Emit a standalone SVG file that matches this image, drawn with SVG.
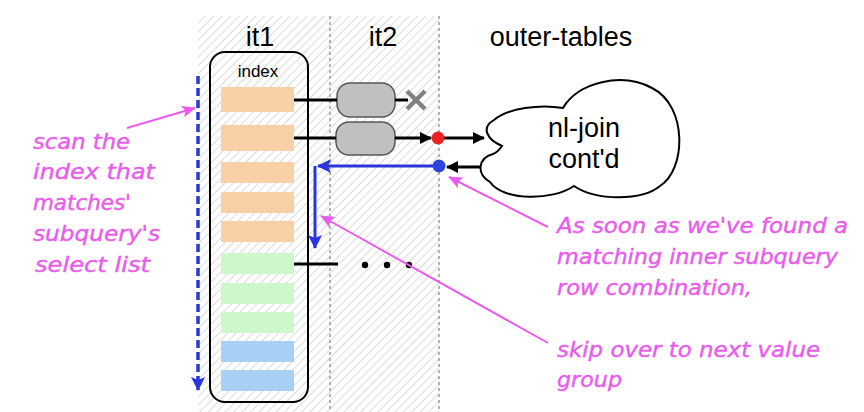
<svg xmlns="http://www.w3.org/2000/svg" width="864" height="412" viewBox="0 0 864 412">
<defs>
<pattern id="hatch" width="6" height="6" patternUnits="userSpaceOnUse" patternTransform="rotate(45)">
<line x1="0" y1="0" x2="0" y2="6" stroke="#b8b8b8" stroke-width="1"/>
</pattern>
<marker id="ab" markerWidth="12" markerHeight="12" refX="11" refY="6" orient="auto" markerUnits="userSpaceOnUse">
<path d="M0,0 L12,6 L0,12 Z" fill="#000"/>
</marker>
<marker id="abl" markerWidth="14" markerHeight="14" refX="13" refY="7" orient="auto" markerUnits="userSpaceOnUse">
<path d="M0,0 L14,7 L0,14 L3,7 Z" fill="#2a35dd"/>
</marker>
<marker id="ap" markerWidth="14" markerHeight="12" refX="13" refY="6" orient="auto" markerUnits="userSpaceOnUse">
<path d="M0,0 L14,6 L0,12 L3,6 Z" fill="#e95ceb"/>
</marker>
</defs>
<style>
.hd{font-family:"Liberation Sans",Arial,sans-serif;font-size:27px;fill:#000;text-anchor:middle}
.nt{font-family:"DejaVu Sans","Liberation Sans",sans-serif;font-style:italic;font-size:21px;fill:#e95ceb;stroke:#e95ceb;stroke-width:0.4}
.or{fill:#f8cfa6}
.gr{fill:#cdf7cd}
.bl{fill:#a8d0f5}
.gbox{fill:#c0c0c0;stroke:#555;stroke-width:1.5}
.blk{stroke:#000;stroke-width:3;fill:none}
.pk{stroke:#e95ceb;stroke-width:2;fill:none}
</style>

<rect x="198" y="16" width="241" height="396" fill="url(#hatch)"/>
<line x1="330" y1="16" x2="330" y2="412" stroke="#9a9a9a" stroke-width="1.5" stroke-dasharray="3,3"/>
<line x1="439" y1="16" x2="439" y2="412" stroke="#9a9a9a" stroke-width="1.5" stroke-dasharray="3,3"/>

<text class="hd" x="260" y="46">it1</text>
<text class="hd" x="383" y="46">it2</text>
<text class="hd" x="561" y="46">outer-tables</text>

<g id="index">
<rect x="210" y="52" width="98" height="350" rx="15" ry="15" fill="none" stroke="#000" stroke-width="2"/>
<text x="258" y="77" font-family="Liberation Sans,Arial,sans-serif" font-size="17" text-anchor="middle">index</text>
<rect class="or" x="221" y="87" width="73" height="25"/>
<rect class="or" x="221" y="125" width="73" height="26"/>
<rect class="or" x="221" y="162" width="73" height="21"/>
<rect class="or" x="221" y="192" width="73" height="21"/>
<rect class="or" x="221" y="221" width="73" height="21"/>
<rect class="gr" x="221" y="253" width="73" height="21"/>
<rect class="gr" x="221" y="283" width="73" height="21"/>
<rect class="gr" x="221" y="312" width="73" height="21"/>
<rect class="bl" x="221" y="341" width="73" height="21"/>
<rect class="bl" x="221" y="370" width="73" height="21"/>
</g>

<g id="it2-rows">
<rect class="gbox" x="337" y="83" width="58" height="34" rx="13" ry="13"/>
<rect class="gbox" x="336" y="122" width="59" height="33" rx="13" ry="13"/>
</g>

<g id="cloud">
<path d="M502,146 C488,140 480,128 494,120 C508,108 540,104 563,108 C578,82 622,72 652,88 C688,106 686,170 660,186 C642,201 596,201 574,186 C552,201 503,201 490,182 C476,174 478,158 493,154 C498,152 500,149 502,146 Z" fill="#fff" stroke="#000" stroke-width="2"/>
<text class="hd" x="584" y="137">nl-join</text>
<text class="hd" x="584" y="168">cont'd</text>
</g>

<g id="connectors">
<line class="blk" x1="294" y1="100" x2="337" y2="100"/>
<line class="blk" x1="395" y1="100" x2="408" y2="100"/>
<g stroke="#808080" stroke-width="4.5" stroke-linecap="butt">
<line x1="407" y1="91" x2="425" y2="109"/>
<line x1="425" y1="91" x2="407" y2="109"/>
</g>
<line class="blk" x1="294" y1="138" x2="336" y2="138"/>
<line class="blk" x1="395" y1="138" x2="431" y2="138" marker-end="url(#ab)"/>
<line class="blk" x1="444" y1="138" x2="484" y2="138" marker-end="url(#ab)"/>
<line class="blk" x1="480" y1="167" x2="447" y2="167" marker-end="url(#ab)"/>
<circle cx="438" cy="138" r="6.5" fill="#ee2222"/>
<path d="M438,166 L318,166" stroke="#2a35dd" stroke-width="3" fill="none" marker-end="url(#abl)"/>
<path d="M315,166 L315,248" stroke="#2a35dd" stroke-width="3" fill="none" marker-end="url(#abl)"/>
<circle cx="439" cy="166" r="6.5" fill="#2a45dd"/>
<line x1="198" y1="76" x2="198" y2="390" stroke="#2a35dd" stroke-width="3.5" stroke-dasharray="8,4" marker-end="url(#abl)"/>
<line class="blk" x1="294" y1="264" x2="338" y2="264"/>
<circle cx="365" cy="265" r="3.2" fill="#000"/>
<circle cx="387" cy="265" r="3.2" fill="#000"/>
<circle cx="409" cy="265" r="3.2" fill="#000"/>
<line class="pk" x1="127" y1="128" x2="195" y2="108" marker-end="url(#ap)"/>
<line class="pk" x1="548" y1="227" x2="449" y2="177" marker-end="url(#ap)"/>
<line class="pk" x1="548" y1="343" x2="321" y2="216" marker-end="url(#ap)"/>
</g>

<g id="notes">
<text class="nt" x="33" y="149" textLength="97" lengthAdjust="spacingAndGlyphs">scan the</text>
<text class="nt" x="33" y="179" textLength="122" lengthAdjust="spacingAndGlyphs">index that</text>
<text class="nt" x="33" y="210" textLength="98" lengthAdjust="spacingAndGlyphs">matches'</text>
<text class="nt" x="33" y="241" textLength="127" lengthAdjust="spacingAndGlyphs">subquery's</text>
<text class="nt" x="35" y="272" textLength="115" lengthAdjust="spacingAndGlyphs">select list</text>
<text class="nt" x="557" y="233" textLength="291" lengthAdjust="spacingAndGlyphs">As soon as we've found a</text>
<text class="nt" x="557" y="264" textLength="281" lengthAdjust="spacingAndGlyphs">matching inner subquery</text>
<text class="nt" x="557" y="295" textLength="195" lengthAdjust="spacingAndGlyphs">row combination,</text>
<text class="nt" x="557" y="357" textLength="263" lengthAdjust="spacingAndGlyphs">skip over to next value</text>
<text class="nt" x="557" y="387" textLength="65" lengthAdjust="spacingAndGlyphs">group</text>
</g>
</svg>
